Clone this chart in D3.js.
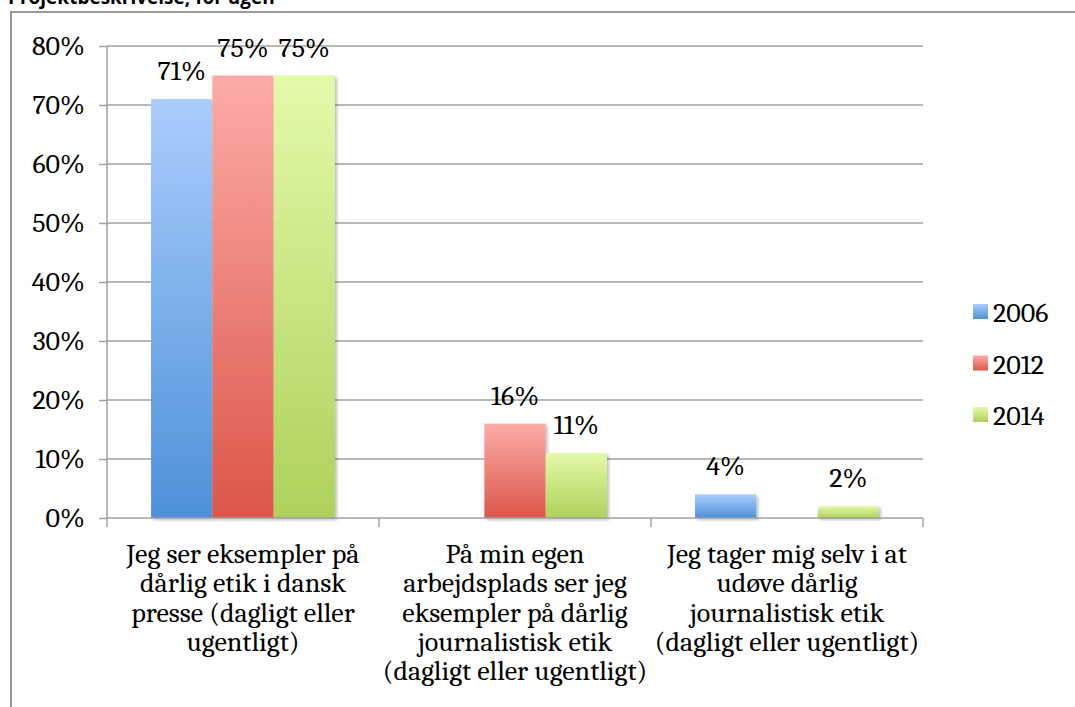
<!DOCTYPE html>
<meta charset="utf-8">
<style>
body { margin: 0; background: #fff; }
</style>
<body>
<div id="chart"></div>
<script src="https://d3js.org/d3.v7.min.js"></script>
<script>
var categories = [
  ["Jeg ser eksempler på", "dårlig etik i dansk", "presse (dagligt eller", "ugentligt)"],
  ["På min egen", "arbejdsplads ser jeg", "eksempler på dårlig", "journalistisk etik", "(dagligt eller ugentligt)"],
  ["Jeg tager mig selv i at", "udøve dårlig", "journalistisk etik", "(dagligt eller ugentligt)"]
];
var years = ["2006", "2012", "2014"];
var v2006 = [0.71, null, 0.04];
var v2012 = [0.75, 0.16, null];
var v2014 = [0.75, 0.11, 0.02];
var yTicks = [0, 0.1, 0.2, 0.3, 0.4, 0.5, 0.6, 0.7, 0.8];

var series = [v2006, v2012, v2014];
var grad = [["#abcdfd", "#4d91d8"], ["#fcaca7", "#dc564a"], ["#e3faa9", "#aed15b"]];
var serif = "Caladea, 'Liberation Serif', serif";
var fs = 28;

var width = 1075, height = 707;
var svg = d3.select("#chart").append("svg")
    .attr("width", width).attr("height", height);

var defs = svg.append("defs");
grad.forEach(function(g, i) {
  var lg = defs.append("linearGradient").attr("id", "g" + i)
      .attr("x1", 0).attr("y1", 0).attr("x2", 0).attr("y2", 1);
  lg.append("stop").attr("offset", "0%").attr("stop-color", g[0]);
  lg.append("stop").attr("offset", "100%").attr("stop-color", g[1]);
});
var f = defs.append("filter").attr("id", "shadow")
    .attr("x", "-10%").attr("y", "-10%").attr("width", "130%").attr("height", "130%");
f.append("feDropShadow").attr("dx", 2).attr("dy", 2).attr("stdDeviation", 1.5)
  .attr("flood-color", "#000").attr("flood-opacity", 0.25);

// title, partly above the page edge as in the original
svg.append("text")
  .attr("x", 8).attr("y", 4)
  .style("font-family", "'Open Sans', sans-serif")
  .style("font-weight", "bold").style("font-size", "19px")
  .text("Projektbeskrivelse, for ugen");

// frame
svg.append("path")
  .attr("d", "M11,707V12H1075")
  .attr("fill", "none").attr("stroke", "#9a9a9a").attr("stroke-width", 2);

var x = d3.scaleBand().domain(d3.range(categories.length)).range([107, 923]);
var x1 = d3.scaleBand().domain(d3.range(years.length))
    .range([x.bandwidth() * 0.162, x.bandwidth() * 0.838]);
var y = d3.scaleLinear().domain([0, 0.8]).range([518, 46]);

// grid
svg.append("g").selectAll("line").data(yTicks.slice(1)).join("line")
  .attr("x1", 107).attr("x2", 923)
  .attr("y1", d => y(d)).attr("y2", d => y(d))
  .attr("stroke", "#a0a0a0").attr("stroke-width", 1.5);

// y axis
var ya = svg.append("g").attr("transform", "translate(107,0)")
  .call(d3.axisLeft(y).tickValues(yTicks).tickFormat(d3.format(".0%")).tickSize(8).tickPadding(14))
  .attr("font-family", serif).attr("font-size", fs);
ya.select(".domain").attr("stroke", "#a0a0a0").attr("stroke-width", 1.5).attr("d", "M0,518V46");
ya.selectAll(".tick line").attr("stroke", "#a0a0a0").attr("stroke-width", 1.5);
ya.selectAll(".tick text").attr("fill", "#000");

// bars
var bars = [];
series.forEach(function(s, si) {
  s.forEach(function(v, ci) { if (v != null) bars.push({s: si, c: ci, v: v}); });
});
svg.append("g").selectAll("rect").data(bars).join("rect")
  .attr("x", d => x(d.c) + x1(d.s))
  .attr("width", x1.bandwidth())
  .attr("y", d => y(d.v))
  .attr("height", d => y(0) - y(d.v))
  .attr("fill", d => "url(#g" + d.s + ")")
  .attr("filter", "url(#shadow)");

// x axis
var xa = svg.append("g").attr("transform", "translate(0,518)");
xa.append("line").attr("x1", 107).attr("x2", 923)
  .attr("stroke", "#a0a0a0").attr("stroke-width", 1.5);
var edges = d3.range(categories.length + 1).map(i => 107 + i * x.step());
xa.selectAll(".tk").data(edges).join("line")
  .attr("x1", d => d).attr("x2", d => d).attr("y1", 0).attr("y2", 9)
  .attr("stroke", "#a0a0a0").attr("stroke-width", 1.5);

// category labels
svg.append("g").attr("font-family", serif).attr("font-size", fs)
  .selectAll("text").data(categories).join("text")
  .attr("text-anchor", "middle")
  .each(function(lines, i) {
    d3.select(this).selectAll("tspan").data(lines).join("tspan")
      .attr("x", x(i) + x.bandwidth() / 2)
      .attr("y", (d, j) => 563 + j * 29.3)
      .text(d => d);
  });

// value labels
svg.append("g").attr("font-family", serif).attr("font-size", fs)
  .selectAll("text").data(bars).join("text")
  .attr("text-anchor", "middle")
  .attr("x", d => x(d.c) + x1(d.s) + x1.bandwidth() / 2)
  .attr("y", d => y(d.v) - 19)
  .text(d => d3.format(".0%")(d.v));

// legend
var lg = svg.append("g").attr("font-family", serif).attr("font-size", fs)
  .selectAll("g").data(years).join("g")
  .attr("transform", (d, i) => "translate(973," + (304 + i * 51.5) + ")");
lg.append("rect").attr("width", 15).attr("height", 15)
  .attr("fill", (d, i) => "url(#g" + i + ")");
lg.append("text").attr("x", 20).attr("y", 18).text(d => d);
</script>
</body>
